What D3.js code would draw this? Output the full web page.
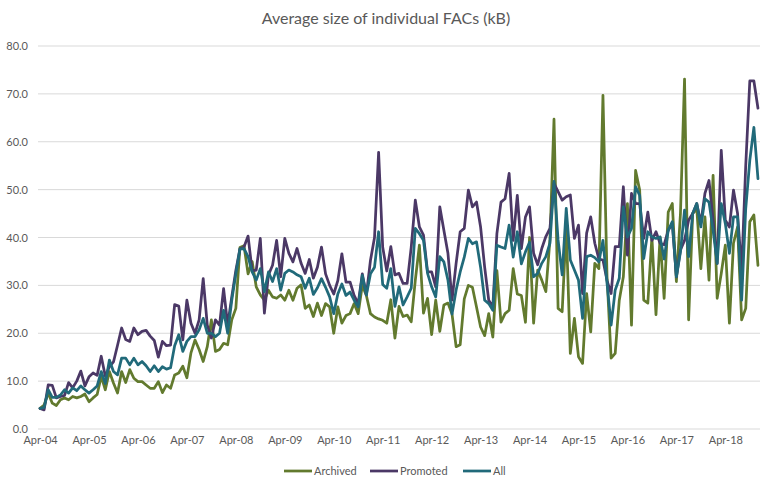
<!DOCTYPE html>
<html><head><meta charset="utf-8">
<script src="https://cdn.jsdelivr.net/npm/d3@7"></script>
<style>body{margin:0;background:#fff}svg{display:block}text{font-family:Lato,"Open Sans",sans-serif;fill:#595959}</style>
</head><body><div id="chart"></div>
<script>
const startYear = 2004, startMonth = 3; // Apr-04 (0-based month)
const tickLabels = ["Apr-04","Apr-05","Apr-06","Apr-07","Apr-08","Apr-09","Apr-10","Apr-11","Apr-12","Apr-13","Apr-14","Apr-15","Apr-16","Apr-17","Apr-18"];
const yTicks = [0,10,20,30,40,50,60,70,80];
const seriesNames = ["Archived","Promoted","All"];
const seriesColors = ["#627a2e","#4b3866","#216a7a"];

const archived = [4.3,5.0,7.5,5.4,4.9,6.1,6.5,6.1,6.8,6.5,6.8,7.3,5.7,6.5,7.2,11,8.2,12,9.6,7.5,
12.0,9.7,12.4,10.6,9.9,9.9,9.2,8.5,8.5,9.9,7.6,9.2,8.5,11.3,11.7,13.1,10.7,15.9,18.6,16.6,
14.1,17.2,22.8,16.2,16.6,17.9,17.6,22.8,25.2,37.9,38.3,32.4,35,29.7,28.0,26.9,29.0,27.6,27.3,28.0,
26.9,29.0,26.9,29.4,30.1,25.2,25.9,23.5,26.3,23.7,26.2,25.5,20.0,25.5,22.1,23.7,24.1,26.2,24.1,30.0,
27.9,24.1,23.4,23.0,22.7,22.1,27,19.0,25.6,23.5,23.8,22.4,31.1,38.4,24.2,27.3,19.7,26.9,20.4,25.9,
26.3,24.0,17.2,17.6,27.2,30.0,29.6,25.5,21.3,19.5,24.1,19.2,33.1,22.3,24.1,24.8,33.5,28.2,27.9,22.3,
40,22.1,33.2,31.1,28.7,39.5,64.7,25.2,24.5,42.3,15.8,23.1,15.1,13.7,28.3,20.3,34.6,33.5,69.7,31.8,
14.8,15.8,26.9,31.8,47.1,21.7,54.0,49.9,26.9,26.3,40.1,23.9,40.1,27.3,45.3,47.1,30.8,45,73.1,22.8,
45.0,46.0,33.5,44.3,31.1,53.0,27.3,32.5,38.4,22.1,38.8,42.2,22.8,25.2,43.3,44.7,34.2];

const promoted = [4.3,4.0,9.2,9.1,6.5,6.8,7.0,9.7,8.6,10.0,12.1,9.0,10.9,11.7,11.2,15.2,11.0,13,14,17.5,
21.1,18.7,18.3,21.1,19.7,20.4,20.6,19.4,18.5,15.0,18.3,17.4,17.5,26.0,25.7,18.6,26.9,22.1,20.0,22.8,
31.4,21.7,19.0,22.8,21.7,29.3,21.7,27.6,33.1,37.6,38,40.3,33.0,33.2,39.8,24.2,32.2,34.2,39.4,31.8,
39.8,36.7,34.9,37.7,34.6,32.5,35.4,31.5,33.8,38.0,32.4,30.0,28.2,31.0,36.6,30.7,30.7,27.9,26.2,32.4,
28.0,35.2,40.0,57.8,38,33.0,38.1,32.2,32.5,30.4,30.4,38,47.8,42.2,40.5,32.8,32.8,29.7,46.4,41.5,
36.7,26.9,34.6,41.2,41.9,49.9,46.4,47.4,42.2,33.8,26.9,25.5,40.8,47.4,48.1,53.4,39.4,48.8,37.7,44.3,
46.4,36.7,34.3,37.7,40.2,41.9,51.3,49.6,47.8,48.5,48.9,39.8,42.6,28.3,40.9,44.3,38.8,35.5,35.3,31.0,
28.3,38.1,38.1,50.6,36.3,49.2,47.1,47.1,39.8,45.3,39.4,41.2,38.8,38.5,41.5,42.9,31.8,37.4,39.4,43.6,
45.0,47.1,43.0,49.2,51.9,43.6,34.6,58.2,43.6,42.2,49.9,45.0,33.0,55.0,72.7,72.7,67.0];

const all = [4.3,4.5,8.2,6.6,6.6,7.1,8.2,7.5,8.6,8.0,9.0,8.2,7.5,8.2,9.0,12,9.5,14.4,12.0,11.3,
14.8,14.8,13.4,14.8,13.4,14.1,13.2,12.0,13.2,12.0,13.0,12.5,12.8,17.4,19.7,16.2,18.3,19.3,19.3,20.7,
23.1,20.0,20.0,19.3,20.0,24.8,20.0,26.9,32.4,37.6,37.7,36,32.8,31.1,33.5,28.7,32.8,30.8,33.5,29.0,
32.5,33.2,32.8,32.2,31.8,29.4,31.5,28.1,29.5,31.4,29.6,27.6,24.1,28.2,30.3,27.9,28.6,26.9,25.5,32.1,
28.0,32.4,33.8,41.2,30.2,29.4,33.5,25.6,29.7,25.9,27.6,29.4,41.9,40.8,39.4,32.5,29.7,27.6,36.0,34.9,
31.1,24.0,29.0,32.8,35.9,39.8,38.7,39.1,33.8,26.9,26.2,24.8,38.4,38.0,37.7,42.6,35.9,41.2,34.5,37,
39,31.8,32.5,34.6,36.0,38.8,51.7,39.5,32.2,46.1,35.3,33.2,31.1,23.1,36.0,36.3,35.8,34.9,39.4,30.4,
21.7,29.0,31.5,46.4,40.1,41.9,50.6,48.8,35.6,41.2,40.1,39.8,40.1,35.5,41.5,43.3,31.8,37.0,45.7,36.0,
45.0,47.1,42.2,48.1,47.4,41.5,34.6,47.1,42.9,36.7,44.3,44.3,26.9,46,56.1,63.0,52.3];

const W = 769, H = 490;
const n = archived.length;
const svg = d3.select("#chart").append("svg").attr("width", W).attr("height", H);

const x = d3.scaleLinear().domain([-0.5, n - 0.5]).range([38, 760]);
const y = d3.scaleLinear().domain([0, 80]).range([429, 46]);

// gridlines
svg.append("g").selectAll("line").data(yTicks).join("line")
  .attr("x1", 38).attr("x2", 760)
  .attr("y1", d => y(d)).attr("y2", d => y(d))
  .attr("stroke", "#d9d9d9").attr("stroke-width", 1);

// y axis labels
const yAxis = d3.axisLeft(y).tickValues(yTicks).tickFormat(d3.format(".1f")).tickSize(0).tickPadding(0);
const gy = svg.append("g").attr("transform", "translate(28,0)").call(yAxis);
gy.select(".domain").remove();
gy.selectAll("text").attr("font-size", 11).style("font-family", "Lato, sans-serif").attr("fill", "#595959");

// x axis labels
const tickIdx = tickLabels.map((d, i) => i * 12);
const xAxis = d3.axisBottom(x).tickValues(tickIdx).tickFormat((d, i) => tickLabels[i]).tickSize(0).tickPadding(0);
const gx = svg.append("g").attr("transform", "translate(0,436)").call(xAxis);
gx.select(".domain").remove();
gx.selectAll("text").attr("font-size", 11).style("font-family", "Lato, sans-serif").attr("fill", "#595959");

// lines
const line = d3.line().x((d, i) => x(i)).y(d => y(d));
const data = [archived, promoted, all];
svg.append("g").selectAll("path").data(data).join("path")
  .attr("d", line).attr("fill", "none")
  .attr("stroke", (d, i) => seriesColors[i])
  .attr("stroke-width", 2.75).attr("stroke-linejoin", "round").attr("stroke-linecap", "round");

// title
svg.append("text").attr("x", 386).attr("y", 24).attr("text-anchor", "middle")
  .attr("font-size", 16).text("Average size of individual FACs (kB)");

// legend
const legX = [284, 370, 463];
const lg = svg.append("g").selectAll("g").data(seriesNames).join("g")
  .attr("transform", (d, i) => `translate(${legX[i]},471)`);
lg.append("line").attr("x1", 0).attr("x2", 28).attr("y1", 0).attr("y2", 0)
  .attr("stroke", (d, i) => seriesColors[i]).attr("stroke-width", 2.75);
lg.append("text").attr("x", 30).attr("y", 4).attr("font-size", 11).text(d => d);
</script></body></html>
